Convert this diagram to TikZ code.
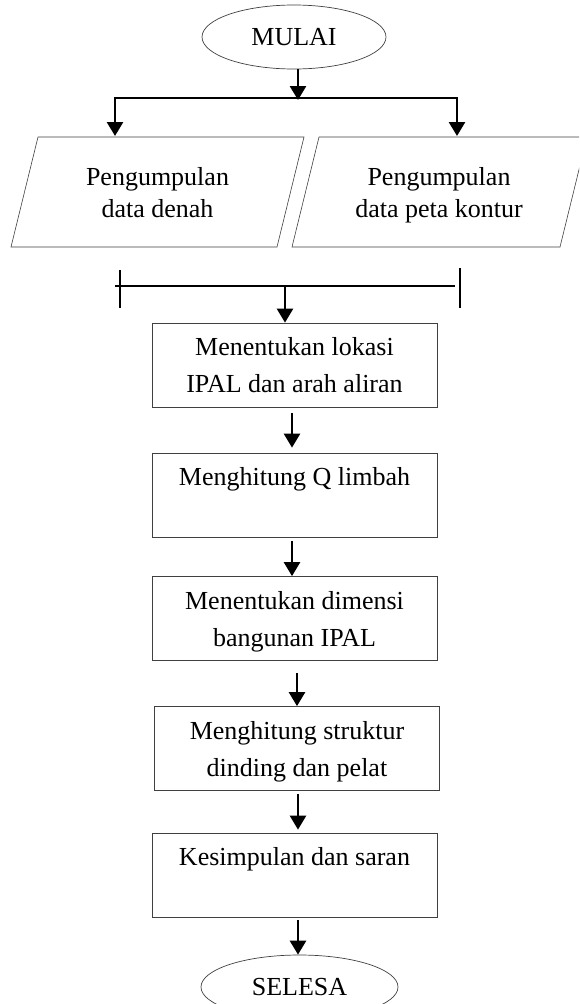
\documentclass[tikz,border=0pt]{standalone}
\usepackage{fontspec}
\setmainfont{Liberation Serif}
\usetikzlibrary{arrows.meta,shapes.geometric,calc}
\tikzset{
  arr/.style={line width=2.6pt,-{Triangle[length=14pt,width=16pt]}},
  flowbox/.style={draw=black!75,line width=0.8pt,rectangle,minimum width=285pt,minimum height=84pt,
    align=center,inner sep=0pt,text height=55pt,text depth=0pt,font=\fontsize{26}{37}\selectfont},
  term/.style={draw=black!75,line width=0.7pt,ellipse,minimum width=184pt,minimum height=64pt,
    inner sep=0pt,font=\fontsize{26}{37}\selectfont},
  paratext/.style={align=center,inner sep=0pt,text height=50pt,text depth=0pt,
    font=\fontsize{26}{32}\selectfont},
  paraline/.style={draw=black!75,line width=0.6pt},
  barline/.style={line width=2.4pt,line cap=rect},
  tick/.style={line width=1.6pt},
}
\begin{document}
\begin{tikzpicture}[x=1pt,y=-1pt]
\useasboundingbox (0,0) rectangle (579,1004);
\clip (0,0) rectangle (579,1004);
\fill[white] (0,0) rectangle (579,1004);

% start
\node[term] (mulai) at (294,37) {MULAI};
\coordinate (jc) at (298,98);
\coordinate (jl) at (115,98);
\coordinate (jr) at (457,98);
\draw[barline] (jl) -- (jr);
\draw[arr] (mulai.south -| jc) -- ($(jc)+(0,2)$);
\draw[arr] (jl) -- ($(jl)+(0,38)$);
\draw[arr] (jr) -- ($(jr)+(0,38)$);

% parallelograms
\draw[paraline] (38,137) -- (304,137) -- (277,247) -- (11,247) -- cycle;
\draw[paraline] (319,137) -- (587,137) -- (560,247) -- (292,247) -- cycle;
\node[paratext] (p1) at (157.5,192) {Pengumpulan\\data denah};
\node[paratext] (p2) at (439,192) {Pengumpulan\\data peta kontur};

% merge bar
\coordinate (bl) at (115,286);
\coordinate (br) at (455,286);
\coordinate (bm) at (285,286);
\draw[line width=2.2pt] (bl) -- (br);
\draw[tick] (120,270) -- (120,308);
\draw[tick] (460,268) -- (460,308);

% process boxes
\node[flowbox] (b1) at (294.5,365) {Menentukan lokasi\\IPAL dan arah aliran};
\node[flowbox] (b2) at (294.5,495) {Menghitung Q limbah\\ };
\node[flowbox] (b3) at (294.5,618.5) {Menentukan dimensi\\bangunan IPAL};
\node[flowbox] (b4) at (297,748.5) {Menghitung struktur\\dinding dan pelat};
\node[flowbox] (b5) at (294.5,875) {Kesimpulan dan saran\\ };
\node[term,minimum width=197pt] (selesa) at (299.5,987) {SELESA};

\coordinate (x1) at (292,0);
\coordinate (x2) at (297,0);
\coordinate (x3) at (298,0);
\draw[arr] (bm) -- (bm |- b1.north);
\draw[arr] ($(b1.south -| x1)+(0,6)$) -- ($(b2.north -| x1)+(0,-5)$);
\draw[arr] ($(b2.south -| x1)+(0,4)$) -- (b3.north -| x1);
\draw[arr] ($(b3.south -| x2)+(0,12)$) -- (b4.north -| x2);
\draw[arr] ($(b4.south -| x3)+(0,3)$) -- ($(b5.north -| x3)+(0,-3)$);
\draw[arr] ($(b5.south -| x3)+(0,3)$) -- (selesa.north -| x3);
\end{tikzpicture}
\end{document}
